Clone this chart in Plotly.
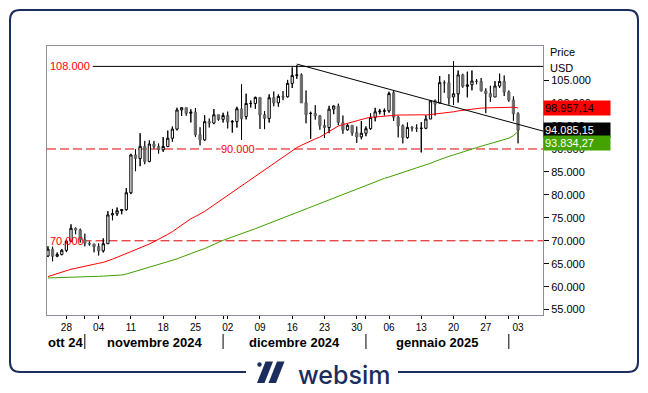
import plotly.graph_objects as go
import pandas as pd

# ---------------- data ----------------
start_date = "2024-10-24"
n_days = 103
dates = pd.date_range(start_date, periods=n_days, freq="D")

open_ = [66680, 68160, 66630, 67020, 67920, 69910, 72720, 72340, 70220, 69490,
         69300, 68740, 67810, 69360, 75640, 75900, 76560, 76780, 80470, 88710,
         87930, 90570, 87280, 91060, 90540, 89840, 90540, 92340, 94340, 98500,
         99010, 97780, 98030, 93090, 91980, 95960, 95650, 97470, 96460, 97280,
         95870, 95990, 98740, 97080, 99920, 99920, 101240, 97440, 96660, 101170,
         100050, 101450, 101370, 104290, 106030, 106150, 100070, 97760, 97760, 97220,
         95100, 94680, 98680, 99300, 95700, 94160, 95170, 93530, 92640, 93430,
         94420, 96880, 98110, 98230, 98310, 102250, 96920, 95040, 92490, 94700,
         94570, 94490, 94520, 96530, 100500, 100030, 104450, 104410, 101340, 102010,
         106140, 103660, 103990, 104810, 104710, 102640, 102080, 101320, 103710, 104740,
         102400, 100660, 97680]
high = [68800, 68720, 67450, 68220, 70210, 73580, 72910, 72660, 71560, 69870,
        69360, 69430, 70520, 76460, 76940, 77250, 76930, 81470, 88950, 89960,
        93430, 91770, 91870, 91760, 91200, 92590, 94000, 94900, 98980, 99070,
        99010, 98650, 98940, 94740, 97360, 96650, 98690, 97500, 97890, 98150,
        96310, 99210, 104090, 102040, 100560, 101400, 101270, 98270, 101910, 102540,
        101900, 102620, 105050, 107780, 108270, 106470, 102750, 98120, 99540, 97360,
        96420, 99400, 99480, 99880, 97290, 95530, 95170, 94900, 96090, 94930,
        97740, 98960, 98730, 98810, 102480, 102710, 97260, 95350, 95770, 94980,
        95370, 95840, 97350, 100680, 100780, 105870, 104940, 106300, 109110, 107100,
        106390, 106850, 107100, 105250, 105470, 103230, 103780, 104780, 106420, 106030,
        102760, 101460, 98000]
low = [66460, 65520, 66440, 66830, 67540, 69730, 71410, 69590, 68780, 68940,
       67480, 66800, 67460, 69320, 74480, 75430, 75770, 76570, 80170, 85160,
       86260, 86680, 87120, 90090, 89000, 89380, 90400, 91620, 94040, 97190,
       97230, 95790, 92640, 90790, 91780, 94680, 95410, 96140, 95770, 94480,
       93580, 94660, 92000, 96460, 99040, 98770, 94360, 94320, 95750, 99310,
       99230, 100630, 101230, 103300, 105290, 100040, 95590, 92230, 96400, 94200,
       92400, 93450, 97590, 95200, 93310, 94020, 92880, 91320, 92120, 92790,
       94200, 96030, 97560, 97290, 97930, 96130, 92530, 91220, 92250, 93840,
       93710, 89260, 94320, 96500, 97270, 99950, 102240, 99650, 99600, 100120,
       103340, 101260, 102780, 104110, 102540, 97800, 100280, 101320, 103320, 101540,
       100300, 96150, 91230]
close = [68160, 66640, 67010, 67930, 69910, 72720, 72340, 70220, 69480, 69290,
         68740, 67810, 69360, 75640, 75900, 76550, 76780, 80470, 88700, 87960,
         90580, 87250, 91070, 90560, 89850, 90540, 92340, 94340, 98500, 99000,
         97780, 98010, 93100, 91990, 95960, 95650, 97460, 96450, 97280, 95870,
         96000, 98770, 96590, 99920, 99920, 101240, 97430, 96680, 101170, 100040,
         101460, 101370, 104300, 106030, 106140, 100040, 97490, 97760, 97220, 95100,
         94690, 98680, 99370, 95800, 94160, 95160, 93530, 92640, 93430, 94420,
         96890, 98110, 98240, 98310, 102080, 96920, 95040, 92480, 94700, 94570,
         94490, 94520, 96530, 100500, 99760, 104460, 104410, 101090, 102020, 106150,
         103650, 103960, 104820, 104710, 102680, 102090, 101330, 103730, 104720, 102410,
         100660, 97690, 94085]

ma_red = [62200, 62550, 62900, 63250, 63600, 63800, 64000, 64250, 64500,
          64700, 64900, 65100, 65300, 65600, 66000, 66400, 66800,
          67200, 67600, 68000, 68400, 68800, 69300, 69800, 70300,
          70800, 71400, 72000, 72700, 73400, 74100, 74800,
          75300, 75800, 76400, 77100, 77800, 78500, 79300,
          79900, 80500, 81200, 81900, 82600, 83300,
          84000, 84800, 85500, 86200,
          86900, 87600, 88300, 89000, 89700, 90300,
          90800, 91300, 91700, 92200, 92600,
          93200, 93800, 94400, 95000,
          95300, 95600, 95900, 96200, 96500,
          96700, 96900, 97000, 97100,
          97200, 97300, 97350, 97400, 97400, 97450, 97500, 97500,
          97450, 97400, 97500, 97600, 97700, 97800,
          97950, 98100, 98300, 98450, 98600,
          98700, 98800, 98900, 98950, 99000,
          99050, 99100, 99150, 99170, 99100, 98957]

ma_green = [61900, 61920, 61940, 61960, 61980, 62000, 62050, 62100, 62150,
            62200, 62230, 62260, 62300, 62330, 62370, 62400, 62550, 62750,
            63050, 63350, 63650, 63900, 64150, 64450, 64750,
            65050, 65350, 65700, 66050, 66450, 66850, 67300,
            67650, 67950, 68300, 68700, 69150, 69650, 70100,
            70450, 70800, 71150, 71450, 71850, 72240, 72630, 73030, 73420, 73820,
            74210, 74610, 75000, 75400, 75790, 76190, 76580, 76980, 77370, 77770,
            78160, 78560, 78950, 79350, 79740, 80140, 80530, 80930, 81320, 81720,
            82110, 82510, 82900, 83300,
            83600, 83900, 84200, 84500, 84850, 85200, 85550, 85900, 86200, 86550,
            86880, 87300, 87700, 88050, 88400, 88700, 89050, 89400, 89700, 90000,
            90300, 90600, 90900, 91150, 91450, 91750, 92050, 92350, 92900, 93834]

last_price = 94085.15
ma_red_last = 98957.14
ma_green_last = 93834.27

level_values = [108000, 90000, 70000]
level_labels = ["108.000", "90.000", "70.000"]
level_starts = ["2024-11-02 17:00", "2024-10-23 19:00", "2024-10-31 12:00"]

trend_dates = ["2024-12-17", "2025-02-08 10:00"]
trend_values = [108500, 93900]

day_ticks = ["2024-10-28", "2024-11-04", "2024-11-11", "2024-11-18", "2024-11-25",
             "2024-12-02", "2024-12-09", "2024-12-16", "2024-12-23", "2024-12-30",
             "2025-01-06", "2025-01-13", "2025-01-20", "2025-01-27", "2025-02-03"]
day_tick_text = ["28", "04", "11", "18", "25", "02", "09", "16", "23", "30",
                 "06", "13", "20", "27", "03"]
month_starts = ["2024-11-01", "2024-12-01", "2025-01-01", "2025-02-01"]
month_labels = ["ott 24", "novembre 2024", "dicembre 2024", "gennaio 2025"]
month_label_x = [65, 154, 294, 437]          # pixel centres
y_ticks = [55000, 60000, 65000, 70000, 75000, 80000, 85000, 90000, 95000, 100000, 105000]

x_range = ["2024-10-23 19:00", "2025-02-08 10:00"]
y_range = [53830, 112440]

# ---------------- layout geometry ----------------
W, H = 648, 393
PL, PR, PT, PB = 47, 543, 46, 315
NAVY = "#1b2d5c"
AXIS_GREY = "#8e8e9a"


def px(xp):
    return (xp - PL) / (PR - PL)


def py(yp):
    return (PB - yp) / (PB - PT)


fig = go.Figure()

fig.add_trace(go.Candlestick(
    x=dates, open=open_, high=high, low=low, close=close,
    increasing=dict(line=dict(color="black", width=1), fillcolor="white"),
    decreasing=dict(line=dict(color="#6a6a6a", width=1), fillcolor="#6a6a6a"),
    whiskerwidth=0, showlegend=False, hoverinfo="skip"))

# black wicks over the candles
wx, wy = [], []
for d, o, h, l, c in zip(dates, open_, high, low, close):
    top, bot = max(o, c), min(o, c)
    wx += [d, d, None, d, d, None]
    wy += [h, top, None, bot, l, None]
fig.add_trace(go.Scatter(x=wx, y=wy, mode="lines", line=dict(color="black", width=1),
                         showlegend=False, hoverinfo="skip"))

fig.add_trace(go.Scatter(x=dates, y=ma_green, mode="lines",
                         line=dict(color="#3f9f00", width=1), showlegend=False, hoverinfo="skip"))
fig.add_trace(go.Scatter(x=dates, y=ma_red, mode="lines",
                         line=dict(color="#ff0000", width=1), showlegend=False, hoverinfo="skip"))
fig.add_trace(go.Scatter(x=trend_dates, y=trend_values, mode="lines",
                         line=dict(color="black", width=1), showlegend=False, hoverinfo="skip"))

shapes = []
annotations = []

# level lines
for val, lab, st in zip(level_values, level_labels, level_starts):
    if val == 108000:
        line = dict(color="black", width=1)
    else:
        line = dict(color="#e00000", width=1, dash="9px,4px")
    shapes.append(dict(type="line", xref="x", yref="y", x0=st, x1=x_range[1],
                       y0=val, y1=val, line=line, layer="below"))

annotations.append(dict(xref="paper", yref="y", x=px(48), y=108000, text="108.000",
                        xanchor="left", yanchor="middle", showarrow=False,
                        font=dict(color="#ff0000", size=11)))
annotations.append(dict(xref="paper", yref="y", x=px(238), y=90000, text="90.000",
                        xanchor="center", yanchor="middle", showarrow=False,
                        bgcolor="white", borderpad=0,
                        font=dict(color="#ff0000", size=11)))
annotations.append(dict(xref="paper", yref="y", x=px(48), y=70000, text="70.000",
                        xanchor="left", yanchor="middle", showarrow=False,
                        font=dict(color="#ff0000", size=11)))

# value boxes on the price axis
for val, txt, bg, fg, shift in [(ma_red_last, "98.957,14", "#ff0000", "black", 0),
                                (last_price, "94.085,15", "black", "white", 0),
                                (ma_green_last, "93.834,27", "#44a300", "white", -12)]:
    annotations.append(dict(xref="paper", yref="y", x=1.0, y=val, yshift=shift,
                            text=txt, xanchor="left", yanchor="middle", showarrow=False,
                            align="left", width=64, height=12, bgcolor=bg, borderpad=1,
                            font=dict(color=fg, size=11)))

annotations.append(dict(xref="paper", yref="paper", x=px(548), y=py(52), text="Price",
                        xanchor="left", yanchor="middle", showarrow=False,
                        font=dict(color="black", size=11)))
annotations.append(dict(xref="paper", yref="paper", x=px(548), y=py(68), text="USD",
                        xanchor="left", yanchor="middle", showarrow=False,
                        font=dict(color="black", size=11)))

# month labels and separators
for lab, cx in zip(month_labels, month_label_x):
    annotations.append(dict(xref="paper", yref="paper", x=px(cx), y=py(342), text="<b>%s</b>" % lab,
                            xanchor="center", yanchor="middle", showarrow=False,
                            font=dict(color="black", size=13)))
for ms in month_starts:
    shapes.append(dict(type="line", xref="x", yref="paper", x0=ms, x1=ms,
                       y0=py(334), y1=py(349), line=dict(color="black", width=1)))

# outer rounded frame
x0, x1, y0, y1, r = 10, 638, 10, 372, 10
path = ("M {a},{b} L {c},{b} Q {d},{b} {d},{e} L {d},{f} Q {d},{g} {c},{g} "
        "L {a},{g} Q {h},{g} {h},{f} L {h},{e} Q {h},{b} {a},{b} Z").format(
    a=px(x0 + r), b=py(y0), c=px(x1 - r), d=px(x1), e=py(y0 + r),
    f=py(y1 - r), g=py(y1), h=px(x0))
shapes.append(dict(type="path", xref="paper", yref="paper", path=path,
                   line=dict(color=NAVY, width=2), layer="above"))
shapes.append(dict(type="rect", xref="paper", yref="paper", x0=px(246), x1=px(398),
                   y0=py(366), y1=py(379), fillcolor="white", line=dict(width=0), layer="above"))
# logo icon
shapes.append(dict(type="circle", xref="paper", yref="paper", x0=px(257.3), x1=px(261.7),
                   y0=py(366.7), y1=py(362.3), fillcolor=NAVY, line=dict(width=0), layer="above"))
for sx in [0, 11.5]:
    p = "M {},{} L {},{} L {},{} L {},{} Z".format(
        px(265.5 + sx), py(361.5), px(273 + sx), py(361.5),
        px(264.5 + sx), py(383), px(257 + sx), py(383))
    shapes.append(dict(type="path", xref="paper", yref="paper", path=p,
                       fillcolor=NAVY, line=dict(width=0), layer="above"))
annotations.append(dict(xref="paper", yref="paper", x=px(344), y=py(375), text="websim",
                        xanchor="center", yanchor="middle", showarrow=False,
                        font=dict(color=NAVY, size=25, family="Inter", weight=500)))

fig.update_layout(
    width=W, height=H,
    margin=dict(l=PL, r=W - PR, t=PT, b=H - PB),
    paper_bgcolor="white", plot_bgcolor="white",
    separators=",.",
    font=dict(family="Arial, Liberation Sans, sans-serif", color="black"),
    showlegend=False,
    shapes=shapes, annotations=annotations,
    xaxis=dict(type="date", range=x_range, rangeslider=dict(visible=False),
               showgrid=False, zeroline=False, showline=True, mirror=True,
               linecolor=AXIS_GREY, linewidth=1,
               tickmode="array", tickvals=day_ticks + month_starts,
               ticktext=day_tick_text + [""] * len(month_starts),
               ticks="outside", ticklen=3, tickcolor="black",
               tickfont=dict(size=10, color="black")),
    yaxis=dict(side="right", range=y_range, showgrid=False, zeroline=False,
               showline=True, mirror=True, linecolor=AXIS_GREY, linewidth=1,
               tickmode="array", tickvals=y_ticks, tickformat=",.0f",
               ticks="outside", ticklen=5, tickcolor="black",
               tickfont=dict(size=11, color="black")),
)

fig.write_html("out.html", config={"displayModeBar": False},
               post_script="document.body.style.margin='0';document.body.style.overflow='hidden';")
